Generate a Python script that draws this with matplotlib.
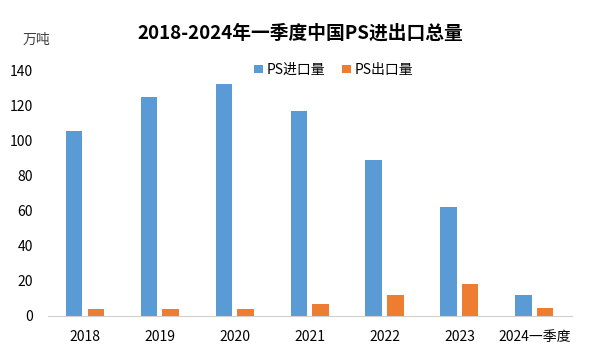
import matplotlib
matplotlib.use("Agg")
import matplotlib.pyplot as plt
import numpy as np

plt.rcParams['font.family'] = ['Noto Sans CJK SC', 'DejaVu Sans']

years = ["2018", "2019", "2020", "2021", "2022", "2023", "2024一季度"]
imports = [105.6, 124.8, 132, 116.6, 88.7, 62.1, 11.8]
exports = [3.8, 3.8, 3.8, 6.6, 11.8, 18.1, 4.2]

blue = "#5b9bd5"
orange = "#ed7d31"

fig = plt.figure(figsize=(5.91, 3.55), dpi=100)
ax = fig.add_axes([0.0804, 0.1107, 0.887, 0.691])

x = np.arange(len(years))
w = 0.22
ax.bar(x - 0.145, imports, w, color=blue, label="PS进口量")
ax.bar(x + 0.145, exports, w, color=orange, label="PS出口量")

ax.set_xlim(-0.5, len(years) - 0.5)
ax.set_ylim(0, 140)
ax.set_yticks(range(0, 141, 20))
ax.set_xticks(x)
ax.set_xticklabels(years, fontsize=10)
ax.tick_params(axis='y', labelsize=10, length=0, pad=10.5)
ax.tick_params(axis='x', length=0, pad=10)
for s in ["top", "right", "left"]:
    ax.spines[s].set_visible(False)
ax.spines["bottom"].set_color("#d0d0d0")

fig.text(0.508, 0.906, "2018-2024年一季度中国PS进出口总量", ha="center",
         va="center", fontsize=13.5, fontweight="bold")
fig.text(0.062, 0.887, "万吨", ha="center", va="center", fontsize=10,
         color="#404040")

fig.legend(loc="center", bbox_to_anchor=(0.565, 0.803), ncol=2, frameon=False,
           fontsize=10, handlelength=0.6, handleheight=0.6, columnspacing=1.2,
           handletextpad=0.3)

fig.savefig("out.png", dpi=100)
